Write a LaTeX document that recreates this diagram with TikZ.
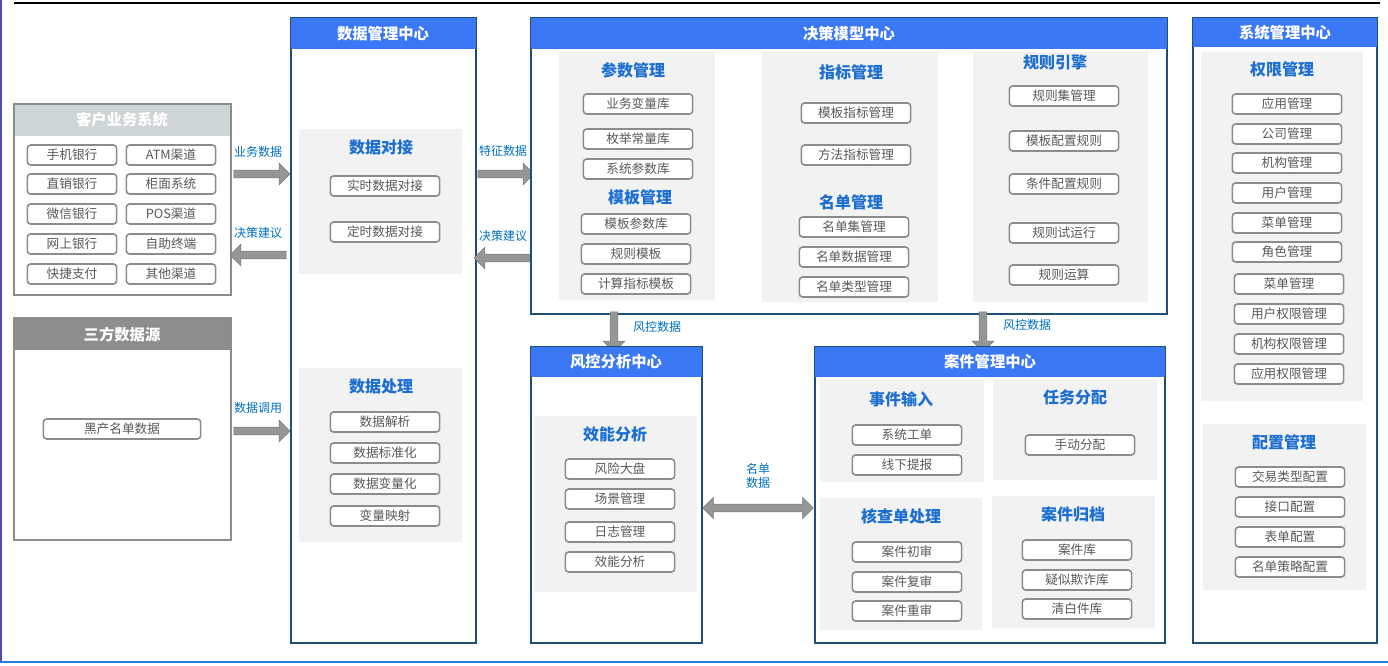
\documentclass[tikz,border=0pt]{standalone}
\usepackage{fontspec}
\setmainfont{Noto Sans CJK SC}
\usetikzlibrary{shapes.arrows}
\definecolor{hdr}{HTML}{3A78F5}
\definecolor{frame}{HTML}{1F4E79}
\definecolor{ttl}{HTML}{1C6FD1}
\definecolor{panel}{HTML}{F2F2F2}
\definecolor{pillb}{HTML}{8C8C8C}
\definecolor{pillt}{HTML}{595959}
\definecolor{arr}{HTML}{969696}
\definecolor{lbl}{HTML}{0070C0}
\tikzset{
 pill/.style={draw=pillb,line width=1.2pt,rounded corners=2.5pt,fill=white,text=pillt,font=\fontsize{9.5}{10}\selectfont,minimum height=15pt,inner sep=0pt},
 hdrtxt/.style={text=white,font=\fontsize{11.5}{12}\selectfont\bfseries},
 ptitle/.style={text=ttl,font=\fontsize{12}{13}\selectfont\bfseries},
 albl/.style={text=lbl,font=\fontsize{9}{10}\selectfont,align=center},
 fat/.style={single arrow,draw=arr!80!black,fill=arr,minimum height=#1,single arrow head extend=4pt,minimum width=16pt,inner sep=2pt},
 box/.style={draw=frame,line width=1.5pt,fill=white},
 gbox/.style={draw=gray!90,line width=1.5pt,fill=white},
}
\newcommand\pl[5]{\node[pill,minimum width=#4pt] (#1) at (#2,#3) {#5};}
\newcommand\pt[4]{\node[ptitle] (#1) at (#2,#3) {#4};}
\begin{document}
\begin{tikzpicture}[x=0.75pt,y=-0.75pt]
\useasboundingbox (0,0) rectangle (1388,666);
\fill[white] (0,0) rectangle (1388,666);
\draw[line width=0.8pt,color=blue!40!gray] (1,0) -- (1,662);
\draw[line width=2pt,color=blue!50!cyan!70!gray] (0,662) -- (1388,662);
\draw[line width=2pt] (14,3) -- (1380,3);
% customer
\draw[gbox] (14,104) rectangle (231,295);
\fill[blue!30!gray!40!white,fill=blue!25!cyan!10!gray!35] (15,105) rectangle (230,136);
\node[hdrtxt] (kh) at (122,120) {客户业务系统};
\pl{k1}{72}{155}{67}{手机银行}\pl{k2}{171}{155}{67}{ATM渠道}
\pl{k3}{72}{184}{67}{直销银行}\pl{k4}{171}{184}{67}{柜面系统}
\pl{k5}{72}{214}{67}{微信银行}\pl{k6}{171}{214}{67}{POS渠道}
\pl{k7}{72}{244}{67}{网上银行}\pl{k8}{171}{244}{67}{自助终端}
\pl{k9}{72}{274}{67}{快捷支付}\pl{k10}{171}{274}{67}{其他渠道}
% third
\draw[gbox] (14,318) rectangle (231,540);
\fill[gray!95!black!85] (15,319) rectangle (230,350);
\node[hdrtxt] (sf) at (122,335) {三方数据源};
\pl{s1}{122}{429}{118}{黑产名单数据}
% arrows left
\node[fat=42pt] (a1) at (260,174) {}; \node[albl] (l1) at (258,152) {业务数据};
\node[fat=42pt,shape border rotate=180] (a2) at (260,255) {}; \node[albl] (l2) at (258,233) {决策建议};
\node[fat=42pt] (a3) at (260,431) {}; \node[albl] (l3) at (258,408) {数据调用};
% data mgmt
\draw[box] (291,18) rectangle (476,643);
\fill[hdr] (291,18) rectangle (476,49);
\node[hdrtxt] (dm) at (383,34) {数据管理中心};
\fill[panel] (299,129) rectangle (462,274);
\pt{d1}{381}{147}{数据对接}
\pl{d11}{385}{186}{82}{实时数据对接}\pl{d12}{385}{232}{82}{定时数据对接}
\fill[panel] (299,368) rectangle (462,542);
\pt{d2}{381}{386}{数据处理}
\pl{d21}{385}{422}{82}{数据解析}\pl{d22}{385}{453}{82}{数据标准化}
\pl{d23}{385}{484}{82}{数据变量化}\pl{d24}{385}{516}{82}{变量映射}
% arrows mid
\node[fat=42pt] (a4) at (504,174) {}; \node[albl] (l4) at (503,151) {特征数据};
\node[fat=42pt,shape border rotate=180] (a5) at (504,258) {}; \node[albl] (l5) at (503,236) {决策建议};
% decision
\draw[box] (531,18) rectangle (1167,314);
\fill[hdr] (531,18) rectangle (1167,49);
\node[hdrtxt] (jc) at (849,34) {决策模型中心};
\fill[panel] (559,52) rectangle (715,300);
\pt{c1}{633}{70}{参数管理}
\pl{c11}{638}{104}{82}{业务变量库}\pl{c12}{638}{139}{82}{枚举常量库}\pl{c13}{638}{169}{82}{系统参数库}
\pt{c2}{640}{197}{模板管理}
\pl{c21}{636}{224}{82}{模板参数库}\pl{c22}{636}{254}{82}{规则模板}\pl{c23}{636}{284}{82}{计算指标模板}
\fill[panel] (762,52) rectangle (938,302);
\pt{c3}{851}{72}{指标管理}
\pl{c31}{856}{113}{82}{模板指标管理}\pl{c32}{856}{155}{82}{方法指标管理}
\pt{c4}{851}{202}{名单管理}
\pl{c41}{854}{227}{82}{名单集管理}\pl{c42}{854}{257}{82}{名单数据管理}\pl{c43}{854}{287}{82}{名单类型管理}
\fill[panel] (973,52) rectangle (1148,302);
\pt{c5}{1055}{62}{规则引擎}
\pl{c51}{1064}{96}{82}{规则集管理}\pl{c52}{1064}{141}{82}{模板配置规则}\pl{c53}{1064}{184}{82}{条件配置规则}
\pl{c54}{1064}{233}{82}{规则试运行}\pl{c55}{1064}{275}{82}{规则运算}
% down arrows
\node[fat=30pt,shape border rotate=270] (a6) at (614,330) {}; \node[albl] (l6) at (657,327) {风控数据};
\node[fat=30pt,shape border rotate=270] (a7) at (983,330) {}; \node[albl] (l7) at (1027,325) {风控数据};
% risk
\draw[box] (531,347) rectangle (702,643);
\fill[hdr] (531,347) rectangle (702,377);
\node[hdrtxt] (fk) at (616,362) {风控分析中心};
\fill[panel] (534,416) rectangle (697,592);
\pt{f1}{615}{434}{效能分析}
\pl{f11}{620}{469}{82}{风险大盘}\pl{f12}{620}{499}{82}{场景管理}\pl{f13}{620}{532}{82}{日志管理}\pl{f14}{620}{562}{82}{效能分析}
% double arrow
\node[double arrow,draw=arr!80!black,fill=arr,minimum height=83pt,minimum width=16pt,double arrow head extend=4pt,inner sep=2pt] (a8) at (758,508) {};
\node[albl] (l8) at (758,476) {名单\\数据};
% case
\draw[box] (815,347) rectangle (1165,643);
\fill[hdr] (815,347) rectangle (1165,377);
\node[hdrtxt] (aj) at (990,362) {案件管理中心};
\fill[panel] (820,380) rectangle (984,482);
\pt{e1}{901}{399}{事件输入}
\pl{e11}{907}{435}{82}{系统工单}\pl{e12}{907}{465}{82}{线下提报}
\fill[panel] (993,380) rectangle (1157,480);
\pt{e2}{1075}{397}{任务分配}
\pl{e21}{1080}{445}{82}{手动分配}
\fill[panel] (820,498) rectangle (982,630);
\pt{e3}{901}{516}{核查单处理}
\pl{e31}{907}{552}{82}{案件初审}\pl{e32}{907}{582}{82}{案件复审}\pl{e33}{907}{611}{82}{案件重审}
\fill[panel] (992,496) rectangle (1155,628);
\pt{e4}{1073}{514}{案件归档}
\pl{e41}{1077}{550}{82}{案件库}\pl{e42}{1077}{580}{82}{疑似欺诈库}\pl{e43}{1077}{609}{82}{清白件库}
% system
\draw[box] (1193,18) rectangle (1377,643);
\fill[hdr] (1193,18) rectangle (1377,47);
\node[hdrtxt] (xt) at (1285,33) {系统管理中心};
\fill[panel] (1201,52) rectangle (1363,401);
\pt{g1}{1282}{69}{权限管理}
\pl{g11}{1287}{104}{82}{应用管理}\pl{g12}{1287}{134}{82}{公司管理}\pl{g13}{1287}{163}{82}{机构管理}
\pl{g14}{1287}{193}{82}{用户管理}\pl{g15}{1287}{223}{82}{菜单管理}\pl{g16}{1287}{252}{82}{角色管理}
\pl{g17}{1289}{284}{82}{菜单管理}\pl{g18}{1289}{314}{82}{用户权限管理}\pl{g19}{1289}{344}{82}{机构权限管理}\pl{g110}{1289}{374}{82}{应用权限管理}
\fill[panel] (1203,424) rectangle (1366,590);
\pt{g2}{1284}{442}{配置管理}
\pl{g21}{1290}{477}{82}{交易类型配置}\pl{g22}{1290}{507}{82}{接口配置}\pl{g23}{1290}{537}{82}{表单配置}\pl{g24}{1290}{567}{82}{名单策略配置}
\end{tikzpicture}
\end{document}
